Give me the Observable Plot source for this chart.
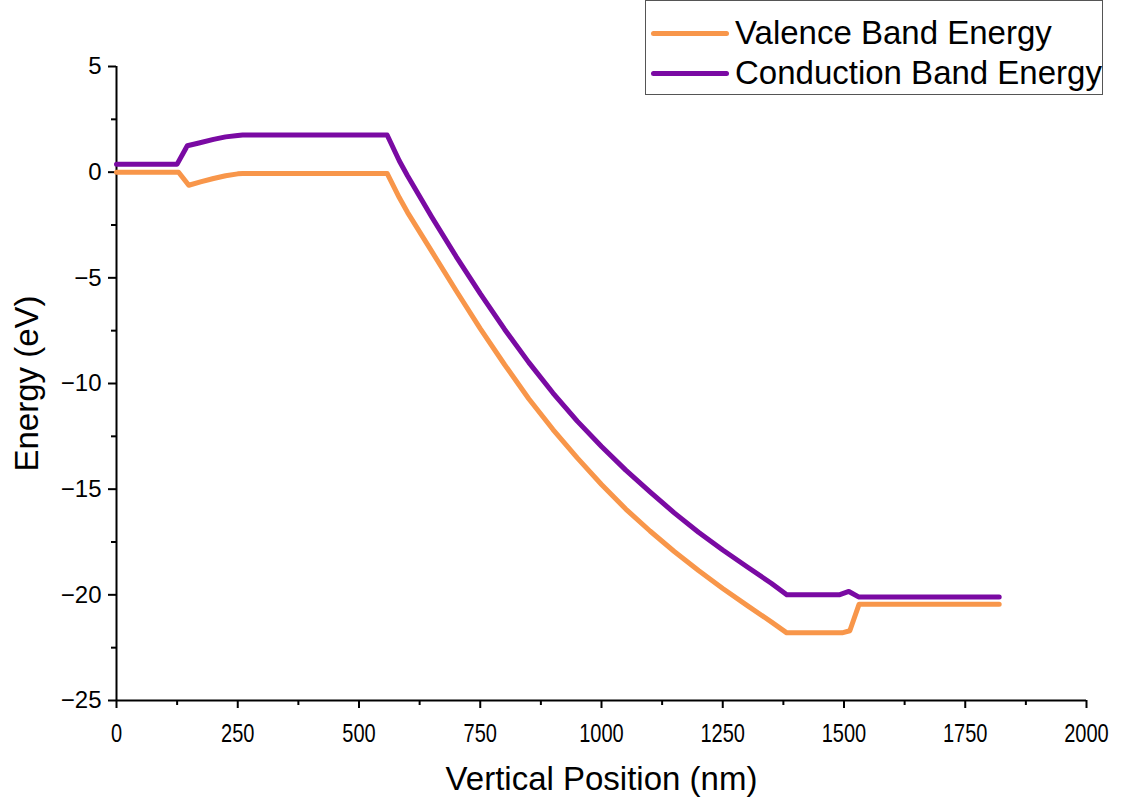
<!DOCTYPE html>
<html>
<head>
<meta charset="utf-8">
<script src="https://cdn.jsdelivr.net/npm/d3@7"></script>
<script src="https://cdn.jsdelivr.net/npm/@observablehq/plot@0.6"></script>
<style>
  html, body { margin: 0; padding: 0; background: #fff; }
  #wrap { position: relative; width: 1128px; height: 805px; font-family: "Liberation Sans", Arial, sans-serif; }
  #legend { position: absolute; left: 645px; top: 0px; width: 458px; height: 95px; border: 1.5px solid #555; background: #fff; box-sizing: border-box; }
  .item { position: absolute; left: 0; height: 40px; display: flex; align-items: center; font-size: 33px; color: #000; white-space: nowrap; }
  .swatch { display: inline-block; width: 78px; height: 5px; border-radius: 3px; margin-left: 5px; margin-right: 6px; }
</style>
</head>
<body>
<div id="wrap"></div>
<script>
// Data (x in nm, energy in eV)
const seriesNames = ["Valence Band Energy", "Conduction Band Energy"];
const seriesColors = ["#F8964A", "#7A0AA3"];

const conductionX = [0, 125, 146, 170, 200, 225, 250, 260, 558, 583, 600, 650, 700, 750, 800, 850, 900, 950, 1000, 1050, 1100, 1150, 1200, 1250, 1300, 1350, 1382, 1490, 1510, 1530, 1820];
const conductionE = [0.38, 0.38, 1.25, 1.38, 1.55, 1.67, 1.74, 1.76, 1.76, 0.54, -0.17, -2.12, -3.98, -5.75, -7.43, -9.0, -10.45, -11.78, -12.98, -14.1, -15.13, -16.12, -17.04, -17.88, -18.67, -19.45, -20.0, -20.0, -19.84, -20.1, -20.1];

const valenceX = [0, 128, 149, 175, 200, 225, 250, 260, 558, 583, 600, 650, 700, 750, 800, 850, 900, 950, 1000, 1050, 1100, 1150, 1200, 1250, 1300, 1350, 1382, 1496, 1512, 1531, 1820];
const valenceE = [0.0, 0.0, -0.62, -0.45, -0.3, -0.17, -0.08, -0.06, -0.06, -1.2, -1.9, -3.75, -5.6, -7.4, -9.1, -10.72, -12.18, -13.52, -14.78, -15.94, -16.98, -17.95, -18.85, -19.7, -20.5, -21.28, -21.8, -21.8, -21.7, -20.45, -20.45];

const xTicks = [0, 250, 500, 750, 1000, 1250, 1500, 1750, 2000];
const xMinor = [125, 375, 625, 875, 1125, 1375, 1625, 1875];
const yTicks = [5, 0, -5, -10, -15, -20, -25];
const yMinor = [2.5, -2.5, -7.5, -12.5, -17.5, -22.5];

const valence = valenceX.map((x, i) => ({x, e: valenceE[i]}));
const conduction = conductionX.map((x, i) => ({x, e: conductionE[i]}));

const chart = Plot.plot({
  width: 1128,
  height: 805,
  marginLeft: 116,
  marginRight: 42,
  marginTop: 66,
  marginBottom: 105,
  style: {fontFamily: "'Liberation Sans', Arial, sans-serif", background: "#fff", overflow: "visible"},
  x: {domain: [0, 2000]},
  y: {domain: [-25, 5]},
  marks: [
    Plot.axisX({ticks: xTicks, tickSize: 8, tickPadding: 15, fontSize: 26, strokeWidth: 2, stroke: "#000", color: "#000",
      tickFormat: d => String(d),
      label: "Vertical Position (nm)", labelAnchor: "center", labelArrow: "none", labelOffset: 89}),
    Plot.axisX({ticks: xMinor, tickSize: 5, text: null, strokeWidth: 2, stroke: "#000", label: null}),
    Plot.axisY({ticks: yTicks, tickSize: 8, tickPadding: 7, fontSize: 24, strokeWidth: 2, stroke: "#000", color: "#000",
      tickFormat: d => d < 0 ? "\u2212" + Math.abs(d) : String(d),
      label: "Energy (eV)", labelAnchor: "center", labelArrow: "none", labelOffset: 102}),
    Plot.axisY({ticks: yMinor, tickSize: 5, text: null, strokeWidth: 2, stroke: "#000", label: null}),
    Plot.ruleY([-25], {stroke: "#000", strokeWidth: 2}),
    Plot.ruleX([0], {stroke: "#000", strokeWidth: 2}),
    Plot.line(valence, {x: "x", y: "e", stroke: seriesColors[0], strokeWidth: 5, strokeLinejoin: "round", strokeLinecap: "round"}),
    Plot.line(conduction, {x: "x", y: "e", stroke: seriesColors[1], strokeWidth: 5, strokeLinejoin: "round", strokeLinecap: "round"})
  ]
});

// condensed x tick labels (narrow look), sized tick labels, larger axis titles
chart.querySelectorAll("g[aria-label='x-axis tick label'] text").forEach(t => {
  t.style.fontSize = "26px";
  t.style.fontFamily = "'Liberation Sans', Arial, sans-serif";
  const tr = t.getAttribute("transform") || "";
  t.setAttribute("transform", tr + " scale(0.77,1)");
});
chart.querySelectorAll("g[aria-label='y-axis tick label'] text").forEach(t => { t.style.fontSize = "24px"; });
chart.querySelectorAll("g[aria-label='x-axis label'] text, g[aria-label='y-axis label'] text").forEach(t => t.style.fontSize = "33px");

const wrap = document.getElementById("wrap");
wrap.appendChild(chart);

const legend = document.createElement("div");
legend.id = "legend";
seriesNames.forEach((name, i) => {
  const item = document.createElement("div");
  item.className = "item";
  item.style.top = (i === 0 ? 12 : 52) + "px";
  const sw = document.createElement("span");
  sw.className = "swatch";
  sw.style.background = seriesColors[i];
  item.appendChild(sw);
  const tx = document.createElement("span");
  tx.textContent = name;
  item.appendChild(tx);
  legend.appendChild(item);
});
wrap.appendChild(legend);
</script>
</body>
</html>
